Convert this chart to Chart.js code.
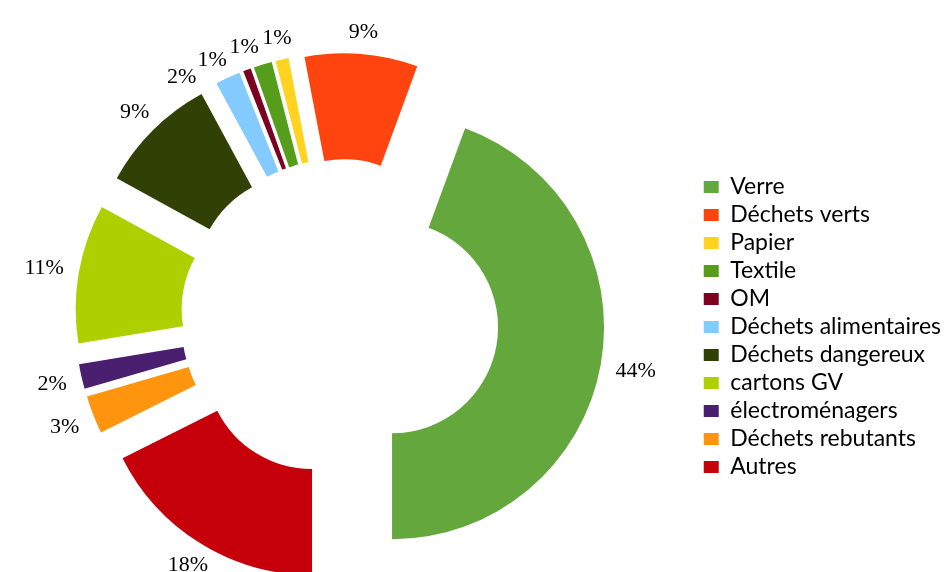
<!DOCTYPE html>
<html><head><meta charset="utf-8">
<script src="https://cdn.jsdelivr.net/npm/chart.js@4.4.1/dist/chart.umd.min.js"></script>
<style>
html,body{margin:0;padding:0;background:#fff;overflow:hidden;width:944px;height:572px;}
canvas{display:block;margin-left:-19px;}
</style>
</head><body>
<canvas id="c" width="970" height="572"></canvas>
<script>
// Legend order
const categories = ['Verre','Déchets verts','Papier','Textile','OM','Déchets alimentaires','Déchets dangereux','cartons GV','électroménagers','Déchets rebutants','Autres'];
const shares = [44.4, 8.6, 1.0, 1.4, 0.6, 1.9, 9.1, 10.6, 1.9, 2.9, 17.6];
const colors = ['#64A83D','#FF4410','#FFD320','#579D1C','#7E0021','#83CAFF','#314004','#AECF00','#4B1F6F','#FF950E','#C5000B'];

// slices are drawn clockwise from the bottom in reverse legend order
const rev = a => a.slice().reverse();

const EXPLODE = 0.25;
const LABEL_GAP = 15;

const explode = {
  id: 'explode',
  beforeDatasetDraw(chart, args) {
    const ctx = chart.ctx;
    args.meta.data.forEach(arc => {
      const mid = (arc.startAngle + arc.endAngle) / 2;
      const d = arc.outerRadius * EXPLODE;
      ctx.save();
      ctx.translate(Math.cos(mid) * d, Math.sin(mid) * d);
      arc.draw(ctx);
      ctx.restore();
    });
    return false;
  }
};

const pctLabels = {
  id: 'pctLabels',
  afterDatasetsDraw(chart) {
    const meta = chart.getDatasetMeta(0);
    const data = chart.data.datasets[0].data;
    const tot = data.reduce((a, b) => a + b, 0);
    const ctx = chart.ctx;
    ctx.save();
    ctx.font = '22px "Liberation Serif"';
    ctx.fillStyle = '#000';
    ctx.textAlign = 'center';
    ctx.textBaseline = 'middle';
    const placed = [];
    for (let k = meta.data.length - 1; k >= 0; k--) {
      const arc = meta.data[k];
      const text = Math.round(data[k] / tot * 100) + '%';
      const w = ctx.measureText(text).width, h = 16;
      const mid = (arc.startAngle + arc.endAngle) / 2;
      const d = arc.outerRadius * EXPLODE;
      const cx = arc.x + Math.cos(mid) * d, cy = arc.y + Math.sin(mid) * d;
      let a = mid, box = null;
      for (let step = 0; step < 60; step++) {
        const c = Math.cos(a), s = Math.sin(a);
        const t = Math.min(Math.abs(c) > 1e-6 ? (w / 2) / Math.abs(c) : Infinity,
                           Math.abs(s) > 1e-6 ? (h / 2) / Math.abs(s) : Infinity);
        const r = arc.outerRadius + LABEL_GAP + t;
        box = {x: cx + c * r, y: cy + s * r, w, h};
        const hit = placed.some(p => Math.abs(p.x - box.x) < (p.w + box.w) / 2 && Math.abs(p.y - box.y) < (p.h + box.h) / 2);
        if (!hit) break;
        a -= Math.PI / 180;
      }
      placed.push(box);
      ctx.fillText(text, box.x, box.y + 1);
    }
    ctx.restore();
  }
};

new Chart(document.getElementById('c'), {
  type: 'doughnut',
  data: {
    labels: rev(categories),
    datasets: [{
      data: rev(shares),
      backgroundColor: rev(colors),
      borderWidth: 0,
      radius: 212,
      clip: false
    }]
  },
  options: {
    responsive: false,
    animation: false,
    events: [],
    rotation: 180,
    cutout: '50%',
    layout: { padding: { left: 0, right: 0, top: 64, bottom: 0 } },
    plugins: {
      tooltip: { enabled: false },
      legend: {
        position: 'right',
        reverse: true,
        title: { display: true, text: '', padding: 0, font: { size: 15, lineHeight: 1.2 } },
        labels: {
          boxWidth: 15,
          boxHeight: 12,
          padding: 5,
          color: '#000',
          font: { family: 'Lato', size: 23 }
        }
      }
    }
  },
  plugins: [explode, pctLabels]
});
</script>
</body></html>
